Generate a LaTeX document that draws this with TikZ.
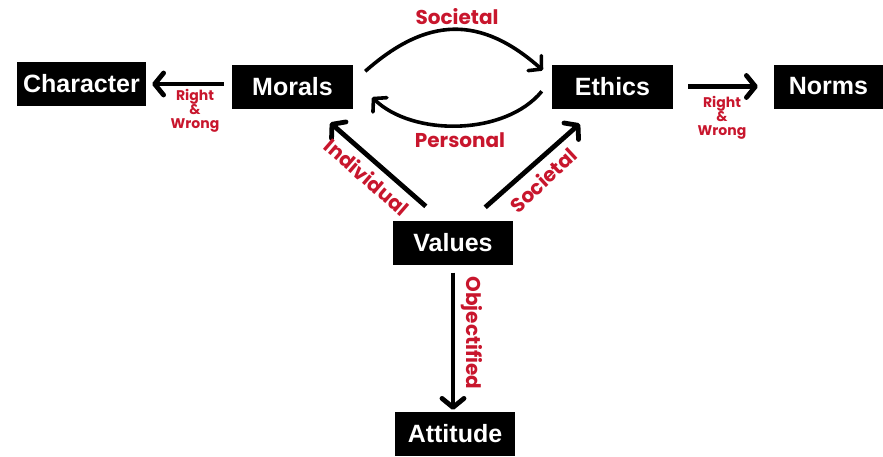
\documentclass[tikz,border=0pt]{standalone}
\usepackage{fontspec}
\setmainfont{Liberation Sans}
\newfontfamily\labfont{Poppins}
\usetikzlibrary{arrows.meta}
\definecolor{lred}{RGB}{200,22,45}
\tikzset{
  box/.style={fill=black, text=white, font=\fontsize{25}{28}\selectfont\bfseries, minimum height=44pt, inner sep=0pt},
  arr/.style={line width=4.8pt, -{Straight Barb[length=9pt,width=22pt,line cap=round,line join=round]}},
  curv/.style={line width=3.6pt, -{Straight Barb[length=9pt,width=20pt,line cap=round,line join=round]}},
  lab/.style={text=lred, font=\labfont\fontsize{20}{20}\selectfont\bfseries, inner sep=0pt},
  small/.style={text=lred, font=\labfont\fontsize{14}{14}\selectfont\bfseries, align=center, inner sep=0pt}
}
\begin{document}
\begin{tikzpicture}[x=1pt,y=-1pt]
\useasboundingbox (0,0) rectangle (883,456);
\node[box, minimum width=129pt] (c) at (81.5,84) {Character};
\node[box, minimum width=121pt] (m) at (292.5,86.5) {Morals};
\node[box, minimum width=121pt] (e) at (612.5,86.5) {Ethics};
\node[box, minimum width=109pt] (n) at (828.5,86.5) {Norms};
\node[box, minimum width=120pt] (v) at (453,242.5) {Values};
\node[box, minimum width=120pt] (a) at (455,434) {Attitude};

% Morals -> Character
\draw[arr, shorten <=8pt, shorten >=6pt] (c.east -| m.west) -- (c.east);
% Ethics -> Norms
\draw[arr, shorten <=15pt, shorten >=16pt] (e.east) -- (n.west);
% Morals -> Ethics (Societal)
\draw[curv] ([xshift=12pt,yshift=-7pt]m.north east) .. controls +(62,-55) and +(-62,-55) .. ([xshift=-9pt,yshift=-6pt]e.north west);
% Ethics -> Morals (Personal)
\draw[curv] ([xshift=-10pt,yshift=-27pt]e.north west) .. controls +(-37,45) and +(40,39) .. ([xshift=19pt,yshift=-33pt]m.north east);
% Values -> Morals
\draw[arr] ([xshift=33pt,yshift=14pt]v.north west) -- ([xshift=-23pt,yshift=-14pt]m.south east);
% Values -> Ethics
\draw[arr] ([xshift=-28pt,yshift=13pt]v.north east) -- ([xshift=28pt,yshift=-15pt]e.south west);
% Values -> Attitude
\draw[arr, shorten <=8pt, shorten >=2pt] (v.south) -- (v.south |- a.north);

\node[small] (rw1) at (195,111) {Right\\[0pt]\&\\[0pt]Wrong};
\node[small] (rw2) at (722,118) {Right\\[0pt]\&\\[0pt]Wrong};
\node[lab] (soc1) at (457,17) {Societal};
\node[lab] (per) at (460,140) {Personal};
\node[lab, rotate=-41] (ind) at (367,177) {Individual};
\node[lab, rotate=43] (soc2) at (543,180) {Societal};
\node[lab, rotate=-90] (obj) at (472,333) {Objectified};
\end{tikzpicture}
\end{document}
